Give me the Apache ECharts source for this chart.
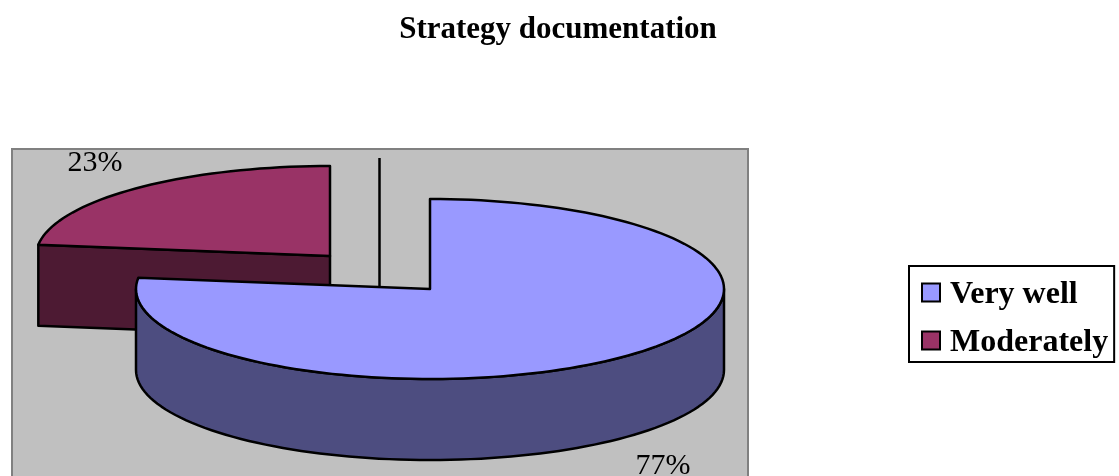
<!DOCTYPE html>
<html>
<head>
<meta charset="utf-8">
<title>Strategy documentation</title>
<script src="https://cdn.jsdelivr.net/npm/echarts@6/dist/echarts.min.js"></script>
<style>
  html, body { margin: 0; padding: 0; background: #fff; }
  #chart { width: 1119px; height: 476px; }
</style>
</head>
<body>
<div id="chart"></div>
<script>
const categories = ['Very well', 'Moderately']
const values = [77, 23]
const colors = ['#9999FF', '#993366']
const sideColors = ['#4D4D80', '#4D1A33']

const serif = '"Liberation Serif", "Times New Roman", serif'

// where each exploded slice sits on the page
const slices = [
  { cx: 430, cy: 289, labelX: 663, labelY: 466 },
  { cx: 330, cy: 256, labelX: 95, labelY: 163 }
]
const rx = 294
const ry = 90
const depth = 81

const total = values.reduce((a, b) => a + b, 0)

const pointAt = (s, deg, dy = 0) => {
  const a = deg * Math.PI / 180
  return [s.cx + rx * Math.sin(a), s.cy - ry * Math.cos(a) + dy]
}

const arc = (s, from, to, dy = 0) => {
  const pts = []
  const steps = Math.max(2, Math.ceil(Math.abs(to - from) / 2))
  for (let i = 0; i <= steps; i++) {
    pts.push(pointAt(s, from + (to - from) * i / steps, dy))
  }
  return pts
}

const edge = (color) => ({ fill: color, stroke: '#000', lineWidth: 2.5, lineJoin: 'round' })

const renderSlice = (index) => (params, api) => {
  const s = slices[index]
  const start = api.value(0) / total * 360
  const end = start + api.value(1) / total * 360
  const children = []

  // cut face seen from the front, only for a slice ending behind the centre
  if (start > 180) {
    const c = [s.cx, s.cy]
    const p = pointAt(s, start)
    children.push({
      type: 'polygon',
      shape: { points: [c, p, [p[0], p[1] + depth], [c[0], c[1] + depth]] },
      style: edge(sideColors[index])
    })
  }

  // rim, the part of the arc that faces the viewer
  const rimFrom = Math.max(start, 90)
  const rimTo = Math.min(end, 270)
  if (rimTo > rimFrom) {
    children.push({
      type: 'polygon',
      shape: { points: arc(s, rimFrom, rimTo).concat(arc(s, rimTo, rimFrom, depth)) },
      style: edge(sideColors[index])
    })
  }

  children.push({
    type: 'polygon',
    shape: { points: [[s.cx, s.cy]].concat(arc(s, start, end)) },
    style: edge(colors[index])
  })

  children.push({
    type: 'text',
    style: {
      x: s.labelX,
      y: s.labelY,
      text: api.value(1) + '%',
      fill: '#000',
      font: '30px ' + serif,
      align: 'center',
      verticalAlign: 'middle'
    }
  })

  return { type: 'group', children }
}

const starts = values.map((v, i) => values.slice(0, i).reduce((a, b) => a + b, 0))

const option = {
  animation: false,
  title: {
    text: 'Strategy documentation',
    left: 553,
    top: 9,
    textAlign: 'center',
    textStyle: { fontFamily: serif, fontWeight: 'bold', fontSize: 31, color: '#000' }
  },
  legend: {
    orient: 'vertical',
    left: 909,
    top: 266,
    padding: [13, 6, 3, 12],
    itemGap: 16,
    itemWidth: 18,
    itemHeight: 18,
    backgroundColor: '#fff',
    borderColor: '#000',
    borderWidth: 2,
    borderRadius: 0,
    selectedMode: false,
    data: categories.map((name, i) => ({
      name,
      icon: 'rect',
      itemStyle: { color: colors[i], borderColor: '#000', borderWidth: 2 }
    })),
    formatter: (name) => '{t|' + name + '}',
    textStyle: {
      rich: {
        t: { fontFamily: serif, fontWeight: 'bold', fontSize: 32, color: '#000', padding: [5, 0, 0, 5] }
      }
    }
  },
  graphic: [
    {
      type: 'rect',
      z: 0,
      silent: true,
      shape: { x: 12, y: 149, width: 736, height: 340 },
      style: { fill: '#C0C0C0', stroke: '#808080', lineWidth: 2 }
    },
    {
      type: 'line',
      z: 1,
      silent: true,
      shape: { x1: 379.5, y1: 158, x2: 379.5, y2: 289 },
      style: { stroke: '#000', lineWidth: 2.5 }
    }
  ],
  series: categories.map((name, i) => ({
    name,
    type: 'custom',
    coordinateSystem: 'none',
    z: 5 - i,
    silent: true,
    itemStyle: { color: colors[i] },
    data: [[starts[i], values[i]]],
    renderItem: renderSlice(i)
  }))
}

const chart = echarts.init(document.getElementById('chart'))
chart.setOption(option)
window.addEventListener('resize', () => chart.resize())
</script>
</body>
</html>
